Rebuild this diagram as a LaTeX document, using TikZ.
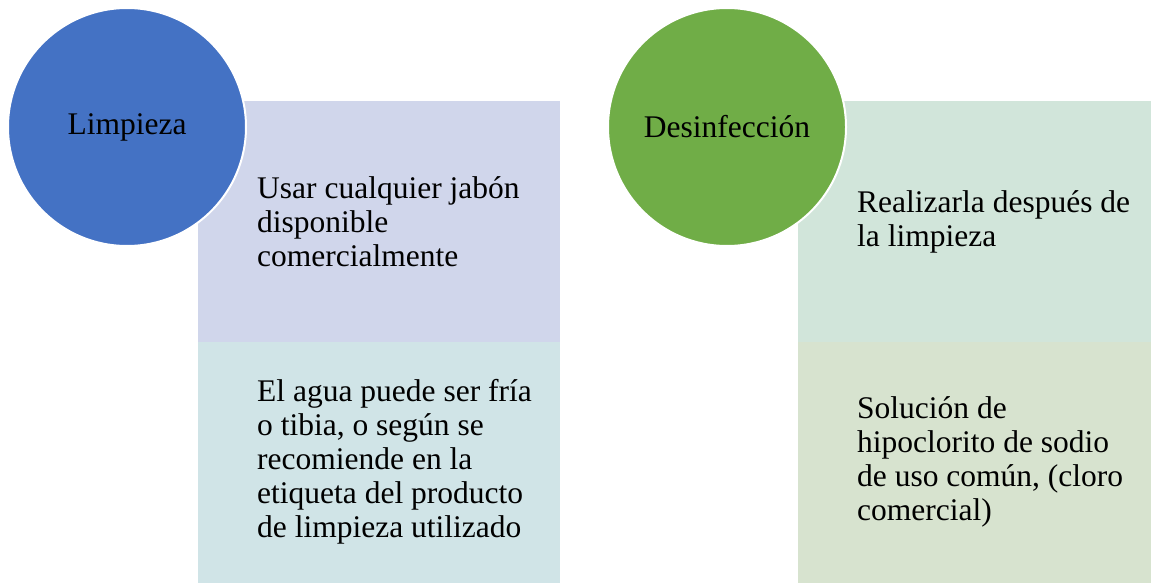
\documentclass[tikz,border=0pt]{standalone}
\usepackage{fontspec}
\setmainfont{Liberation Serif}
\definecolor{cblue}{HTML}{4472C4}
\definecolor{cgreen}{HTML}{70AD47}
\definecolor{boxA}{HTML}{D0D6EB}
\definecolor{boxB}{HTML}{D0E4E7}
\definecolor{boxC}{HTML}{D1E5DA}
\definecolor{boxD}{HTML}{D7E3CF}
\tikzset{
  bubble/.style={circle, draw=white, line width=2pt, minimum size=238pt, inner sep=0pt, font=\fontsize{31.5}{34}\selectfont},
  txt/.style={anchor=west, align=left, inner sep=0pt, font=\fontsize{31.5}{34}\selectfont}
}
\begin{document}
\begin{tikzpicture}[x=1pt,y=-1pt]
\useasboundingbox (0,0) rectangle (1151,583);
\fill[boxA] (198,101) rectangle (560,342);
\fill[boxB] (198,342) rectangle (560,583);
\fill[boxC] (798,101) rectangle (1151,342);
\fill[boxD] (798,342) rectangle (1151,583);
\node[txt] (ta) at (257,222) {Usar cualquier jabón\\disponible\\comercialmente};
\node[txt] (tb) at (257,462) {El agua puede ser fría\\o tibia, o según se\\recomiende en la\\etiqueta del producto\\de limpieza utilizado};
\node[txt] (tc) at (857,222) {Realizarla después de\\la limpieza};
\node[txt] (td) at (857,462) {Solución de\\hipoclorito de sodio\\de uso común, (cloro\\comercial)};
\node[bubble, fill=cblue] (ca) at (127,127) {Limpieza};
\node[bubble, fill=cgreen] (cb) at (727,127) {Desinfección};
\end{tikzpicture}
\end{document}
